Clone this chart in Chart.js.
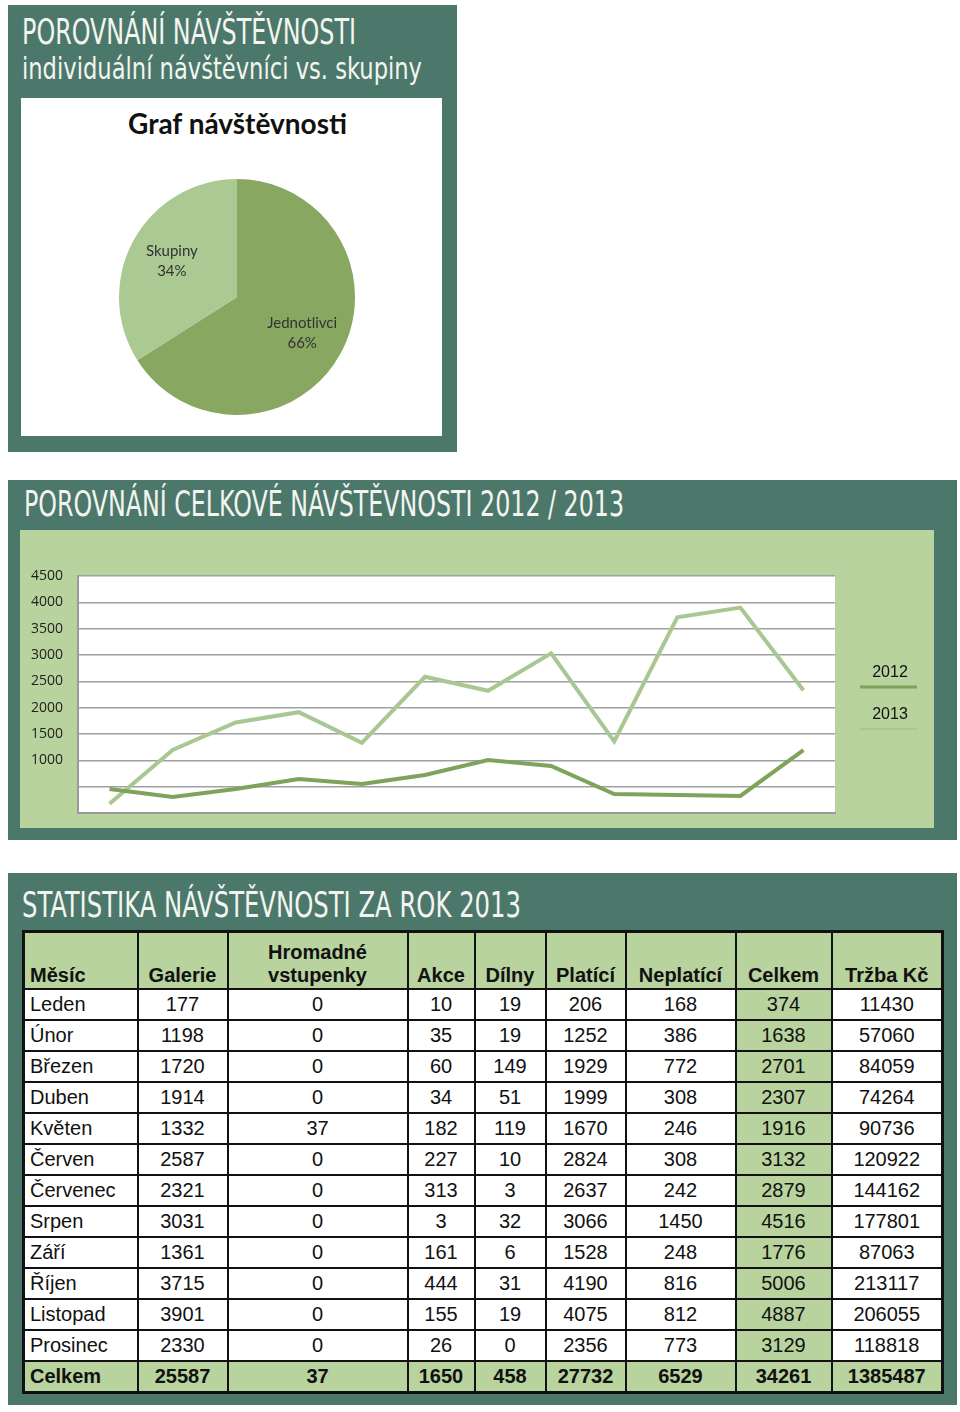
<!DOCTYPE html>
<html lang="cs">
<head>
<meta charset="UTF-8">
<title>Návštěvnost 2013</title>
<script src="https://cdn.jsdelivr.net/npm/chart.js"></script>
<style>
  body { margin: 0; width: 960px; height: 1412px; background: #fff; position: relative; overflow: hidden; }
  .panel { position: absolute; background: #4c786b; }
  .title { position: absolute; color: #f3f5f0; font-family: "Liberation Sans Narrow", "DejaVu Sans Condensed", sans-serif;
           white-space: nowrap; transform-origin: left top; line-height: 1; }
  .box { position: absolute; }
  #pieTitle { position: absolute; left: 27px; width: 421px; top: 106px; text-align: center;
              font: bold 28px Lato, "Open Sans", sans-serif; color: #111; }
  table { position: absolute; left: 22px; top: 930px; width: 919px; border-collapse: collapse; table-layout: fixed;
          font-family: "Liberation Sans", Arial, sans-serif; font-size: 20px; color: #111; border: 3px solid #111; }
  td, th { border: 2px solid #111; padding: 0; text-align: center; height: 29px; line-height: 29px; }
  th { font-weight: bold; vertical-align: bottom; background: #b8d39e; height: 54px; line-height: 23px; padding-bottom: 1px; }
  td { background: #fff; }
  td.first, th.first { text-align: left; padding-left: 5px; }
  td.sum { background: #b8d39e; }
  tr.total td { background: #b8d39e; font-weight: bold; }
</style>
</head>
<body>
  <div class="panel" style="left:8px;top:5px;width:449px;height:447px"></div>
  <div class="title fit" data-w="334" style="left:22px;top:14px;font-size:36px">POROVNÁNÍ NÁVŠTĚVNOSTI</div>
  <div class="title fit" data-w="400" style="left:22px;top:53px;font-size:31px">individuální návštěvníci vs. skupiny</div>
  <div class="box" style="left:21px;top:98px;width:421px;height:338px;background:#fff"></div>
  <div id="pieTitle">Graf návštěvnosti</div>
  <canvas id="pie" width="236" height="236" style="position:absolute;left:119px;top:179px"></canvas>

  <div class="panel" style="left:8px;top:480px;width:949px;height:360px"></div>
  <div class="title fit" data-w="600" style="left:24px;top:486px;font-size:36px">POROVNÁNÍ CELKOVÉ NÁVŠTĚVNOSTI 2012 / 2013</div>
  <div class="box" style="left:20px;top:530px;width:914px;height:298px;background:#b8d39e"></div>
  <canvas id="line" width="914" height="298" style="position:absolute;left:20px;top:530px"></canvas>

  <div class="panel" style="left:8px;top:873px;width:949px;height:532px"></div>
  <div class="title fit" data-w="499" style="left:22px;top:887px;font-size:36px">STATISTIKA NÁVŠTĚVNOSTI ZA ROK 2013</div>
  <table id="stats"></table>

<script>
// pie: individual vs group visitors (%)
const pieLabels = ['Jednotlivci', 'Skupiny'];
const pieValues = [66, 34];

// line chart: monthly attendance 2012 vs 2013
const months = ['Leden', 'Únor', 'Březen', 'Duben', 'Květen', 'Červen', 'Červenec', 'Srpen', 'Září', 'Říjen', 'Listopad', 'Prosinec'];
const visits2012 = [456, 304, 456, 646, 551, 722, 1006, 893, 361, 342, 323, 1196];

// table columns 2013
const galerie   = [177, 1198, 1720, 1914, 1332, 2587, 2321, 3031, 1361, 3715, 3901, 2330];
const hromadne  = [0, 0, 0, 0, 37, 0, 0, 0, 0, 0, 0, 0];
const akce      = [10, 35, 60, 34, 182, 227, 313, 3, 161, 444, 155, 26];
const dilny     = [19, 19, 149, 51, 119, 10, 3, 32, 6, 31, 19, 0];
const platici   = [206, 1252, 1929, 1999, 1670, 2824, 2637, 3066, 1528, 4190, 4075, 2356];
const neplatici = [168, 386, 772, 308, 246, 308, 242, 1450, 248, 816, 812, 773];
const celkem    = [374, 1638, 2701, 2307, 1916, 3132, 2879, 4516, 1776, 5006, 4887, 3129];
const trzba     = [11430, 57060, 84059, 74264, 90736, 120922, 144162, 177801, 87063, 213117, 206055, 118818];
const totals    = ['Celkem', 25587, 37, 1650, 458, 27732, 6529, 34261, 1385487];
const headers   = ['Měsíc', 'Galerie', 'Hromadné<br>vstupenky', 'Akce', 'Dílny', 'Platící', 'Neplatící', 'Celkem', 'Tržba Kč'];
const colWidths = [114, 90, 180, 67, 71, 80, 110, 96, 111];

const visits2013 = galerie;

// squeeze the display titles to their width
document.querySelectorAll('.fit').forEach(el => {
  const w = el.getBoundingClientRect().width;
  el.style.transform = 'scaleX(' + (el.dataset.w / w) + ')';
});

// table
const tbl = document.getElementById('stats');
let html = '<colgroup>' + colWidths.map(w => '<col style="width:' + w + 'px">').join('') + '</colgroup>';
html += '<tr>' + headers.map((h, i) => '<th' + (i === 0 ? ' class="first"' : '') + '>' + h + '</th>').join('') + '</tr>';
months.forEach((m, i) => {
  const row = [galerie[i], hromadne[i], akce[i], dilny[i], platici[i], neplatici[i], celkem[i], trzba[i]];
  html += '<tr><td class="first">' + m + '</td>' +
    row.map((v, j) => '<td' + (j === 6 ? ' class="sum"' : '') + '>' + v + '</td>').join('') + '</tr>';
});
html += '<tr class="total">' + totals.map((v, i) => '<td' + (i === 0 ? ' class="first"' : '') + '>' + v + '</td>').join('') + '</tr>';
tbl.innerHTML = html;

// pie labels inside slices
const sliceLabels = {
  id: 'sliceLabels',
  afterDraw(chart) {
    const ctx = chart.ctx;
    const meta = chart.getDatasetMeta(0);
    ctx.save();
    ctx.font = '15px Lato, "Open Sans", sans-serif';
    ctx.fillStyle = '#333';
    ctx.textAlign = 'center';
    ctx.textBaseline = 'middle';
    meta.data.forEach((arc, i) => {
      const mid = (arc.startAngle + arc.endAngle) / 2;
      const r = arc.outerRadius * 0.63;
      const x = arc.x + Math.cos(mid) * r;
      const y = arc.y + Math.sin(mid) * r;
      ctx.fillText(chart.data.labels[i], x, y - 10);
      ctx.fillText(chart.data.datasets[0].data[i] + '%', x, y + 10);
    });
    ctx.restore();
  }
};

new Chart(document.getElementById('pie'), {
  type: 'pie',
  data: {
    labels: pieLabels,
    datasets: [{ data: pieValues, backgroundColor: ['#88a862', '#abc993'], borderWidth: 0 }]
  },
  options: {
    responsive: false,
    animation: false,
    layout: { padding: 0 },
    plugins: { legend: { display: false }, tooltip: { enabled: false } }
  },
  plugins: [sliceLabels]
});

// white plot area + right side legend
const plotBg = {
  id: 'plotBg',
  beforeDraw(chart) {
    const { ctx, chartArea: a } = chart;
    ctx.save();
    ctx.fillStyle = '#fff';
    ctx.fillRect(a.left, a.top, a.right - a.left, a.bottom - a.top);
    ctx.restore();
  },
  afterDraw(chart) {
    const ctx = chart.ctx;
    ctx.save();
    ctx.font = '16px "Liberation Sans", Arial, sans-serif';
    ctx.fillStyle = '#111';
    ctx.textAlign = 'center';
    ctx.textBaseline = 'middle';
    chart.data.datasets.forEach((ds, i) => {
      const y = 143 + i * 42;
      ctx.fillText(ds.label, 870, y);
      ctx.strokeStyle = ds.borderColor;
      ctx.lineWidth = i === 0 ? 3 : 2;
      ctx.beginPath();
      ctx.moveTo(840, y + 14);
      ctx.lineTo(897, y + 14);
      ctx.stroke();
    });
    ctx.restore();
  }
};

new Chart(document.getElementById('line'), {
  type: 'line',
  data: {
    labels: months,
    datasets: [
      { label: '2012', data: visits2012, borderColor: '#7fa35a', borderWidth: 4, pointRadius: 0, tension: 0 },
      { label: '2013', data: visits2013, borderColor: '#a9c793', borderWidth: 4, pointRadius: 0, tension: 0 }
    ]
  },
  options: {
    responsive: false,
    animation: false,
    layout: { padding: { top: 46, right: 99, bottom: 15, left: 0 } },
    plugins: { legend: { display: false }, tooltip: { enabled: false } },
    scales: {
      x: {
        offset: true,
        grid: { display: false },
        ticks: { display: false },
        border: { display: true, color: '#9a9a9a', width: 2 },
        afterFit: s => { s.height = 0; }
      },
      y: {
        min: 0, max: 4500,
        ticks: {
          stepSize: 500,
          padding: 15,
          color: '#222',
          font: { family: '"Open Sans", sans-serif', size: 14 },
          callback: v => v >= 1000 ? v : ''
        },
        grid: { color: '#a0a0a0', lineWidth: 1.5, drawTicks: false },
        border: { display: true, color: '#9a9a9a', width: 2 },
        afterFit: s => { s.width = 58; s.paddingTop = 0; s.paddingBottom = 0; }
      }
    }
  },
  plugins: [plotBg]
});
</script>
</body>
</html>
